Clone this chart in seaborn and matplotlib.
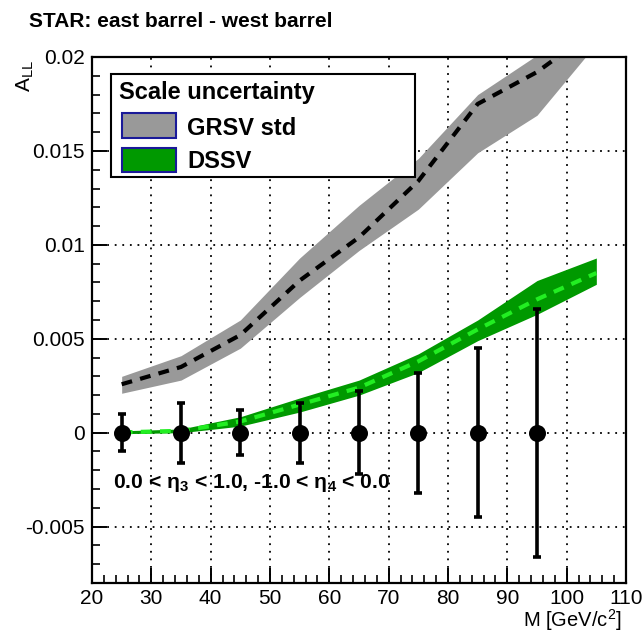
import matplotlib
matplotlib.use("Agg")
import matplotlib.pyplot as plt
from matplotlib.patches import Rectangle
from matplotlib.ticker import MultipleLocator
import pandas as pd
import seaborn as sns

# Invariant-mass bin centres [GeV/c^2]
mass = [25, 35, 45, 55, 65, 75, 85, 95, 105]

# GRSV std prediction: central value and scale-uncertainty envelope
grsv_mid = [0.00258, 0.0035, 0.0052, 0.0081, 0.0104, 0.0134, 0.0175, 0.0192, 0.0215]
grsv_lo = [0.0021, 0.0028, 0.0045, 0.0072, 0.0097, 0.0119, 0.0149, 0.0169, 0.0207]
grsv_hi = [0.0030, 0.0041, 0.0060, 0.0093, 0.0121, 0.0146, 0.0180, 0.0201, 0.0235]

# DSSV prediction: central value and scale-uncertainty envelope
dssv_mid = [0.00002, 0.0001, 0.0006, 0.0015, 0.0024, 0.0038, 0.0055, 0.0071, 0.0085]
dssv_lo = [-0.00005, 0.0000, 0.00035, 0.0011, 0.0020, 0.0032, 0.0049, 0.0063, 0.0079]
dssv_hi = [0.0001, 0.0002, 0.00085, 0.00185, 0.0028, 0.0042, 0.0060, 0.0081, 0.0093]

# Projected A_LL points (zero) and their statistical uncertainties
pt_mass = [25, 35, 45, 55, 65, 75, 85, 95]
pt_all = [0.0, 0.0, 0.0, 0.0, 0.0, 0.0, 0.0, 0.0]
pt_err = [0.0010, 0.0016, 0.0012, 0.0016, 0.0022, 0.0032, 0.0045, 0.0066]

x_ticks = [20, 30, 40, 50, 60, 70, 80, 90, 100, 110]
y_ticks = [-0.005, 0, 0.005, 0.01, 0.015, 0.02]
y_tick_labels = ["-0.005", "0", "0.005", "0.01", "0.015", "0.02"]

legend_title = "Scale uncertainty"
legend_labels = ["GRSV std", "DSSV"]

sns.set_theme(style="white")
plt.rcParams["font.family"] = ["Liberation Sans", "DejaVu Sans"]
plt.rcParams["mathtext.fontset"] = "custom"
plt.rcParams["mathtext.rm"] = "Liberation Sans"
plt.rcParams["mathtext.it"] = "Liberation Sans"
plt.rcParams["mathtext.bf"] = "Liberation Sans:bold"

bands = pd.DataFrame({"M": mass, "grsv": grsv_mid, "grsv_lo": grsv_lo, "grsv_hi": grsv_hi,
                      "dssv": dssv_mid, "dssv_lo": dssv_lo, "dssv_hi": dssv_hi})
points = pd.DataFrame({"M": pt_mass, "ALL": pt_all, "err": pt_err})

GRAY = "#999999"
GREEN = "#009900"
W, H = 643, 635


def fx(px):
    return px / W


def fy(py):
    return 1 - py / H


fig = plt.figure(figsize=(W / 100, H / 100), dpi=100)
ax = fig.add_axes([fx(92), fy(583), 534 / W, 526 / H])

# dotted grid at the major ticks
ax.set_xticks(x_ticks)
ax.set_yticks(y_ticks)
ax.grid(True, color="black", linestyle=(0, (1, 3.2)), linewidth=1.3)
ax.set_axisbelow(True)

# uncertainty bands
ax.fill_between(bands["M"], bands["grsv_lo"], bands["grsv_hi"], color=GRAY, lw=0, zorder=2)
ax.fill_between(bands["M"], bands["dssv_lo"], bands["dssv_hi"], color=GREEN, lw=0, zorder=2)

# central predictions
sns.lineplot(data=bands, x="M", y="grsv", ax=ax, color="black", lw=3.0,
             linestyle=(0, (2.6, 2.0)), zorder=3)
sns.lineplot(data=bands, x="M", y="dssv", ax=ax, color="#22ee22", lw=3.0,
             linestyle=(0, (2.6, 2.0)), zorder=3)

# projected points with error bars
ax.errorbar(points["M"], points["ALL"], yerr=points["err"], fmt="none",
            ecolor="black", elinewidth=2.6, capsize=3.2, capthick=2.6, zorder=4)
sns.scatterplot(data=points, x="M", y="ALL", ax=ax, color="black", s=150,
                edgecolor="black", linewidth=0, zorder=5)

ax.set_xlim(20, 110)
ax.set_ylim(-0.008, 0.02)
ax.set_yticklabels(y_tick_labels)
ax.xaxis.set_minor_locator(MultipleLocator(2))
ax.yaxis.set_minor_locator(MultipleLocator(0.001))
ax.tick_params(axis="both", which="major", direction="in", length=11, width=1.4,
               labelsize=15, colors="black", pad=5)
ax.tick_params(axis="both", which="minor", direction="in", length=5.5, width=1.4)
ax.tick_params(axis="x", which="both", bottom=True, top=False)
ax.tick_params(axis="y", which="both", left=True, right=False)
ax.tick_params(axis="x", which="major", pad=4)
for s in ax.spines.values():
    s.set_color("black")
    s.set_linewidth(1.6)

ax.set_xlabel("")
ax.set_ylabel("")
fig.text(fx(622), fy(627), r"M [GeV/c$^{2}$]", ha="right", va="baseline",
         fontsize=14.5, color="black")
fig.text(fx(25), fy(60), r"A$_{\mathrm{LL}}$", ha="center", va="top",
         rotation=90, fontsize=15, color="black")

fig.text(fx(29), fy(27), "STAR: east barrel - west barrel", ha="left",
         va="baseline", fontsize=15, fontweight="bold", color="black")

ax.text(23.5, -0.0027, r"0.0 < η$_{\mathbf{3}}$ < 1.0, -1.0 < η$_{\mathbf{4}}$ < 0.0",
        ha="left", va="center", fontsize=15.2, fontweight="bold", color="black",
        zorder=3.5)

# legend box with its swatches
fig.add_artist(Rectangle((fx(111), fy(177)), (415 - 111) / W, (177 - 74) / H,
                         transform=fig.transFigure, facecolor="white",
                         edgecolor="black", linewidth=1.5, zorder=7))
fig.text(fx(119), fy(99), legend_title, ha="left", va="baseline", fontsize=17,
         fontweight="bold", color="black", zorder=8)
for (top, bot, base), colour, label in zip([(113, 138, 135), (148, 172, 168)],
                                           [GRAY, GREEN], legend_labels):
    fig.add_artist(Rectangle((fx(122), fy(bot)), (176 - 122) / W, (bot - top) / H,
                             transform=fig.transFigure, facecolor=colour,
                             edgecolor="#1a1a99", linewidth=1.5, zorder=8))
    fig.text(fx(187), fy(base), label, ha="left", va="baseline", fontsize=17,
             fontweight="bold", color="black", zorder=8)

fig.savefig("out.png", dpi=100, facecolor="white")
